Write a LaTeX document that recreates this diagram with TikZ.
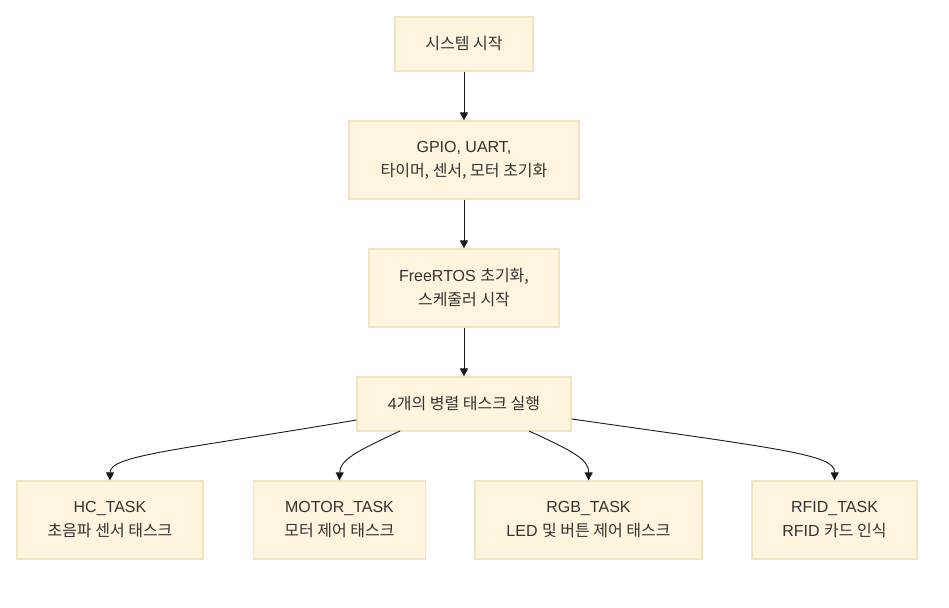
\documentclass[tikz,border=0pt]{standalone}
\usepackage{fontspec}
\setmainfont{Liberation Sans}
\newfontfamily\kr{Noto Sans CJK KR}
\usetikzlibrary{arrows.meta}
\definecolor{boxfill}{HTML}{FFF4DD}
\definecolor{boxline}{HTML}{F3E3C3}
\definecolor{ink}{HTML}{333333}
\tikzset{
  stepbox/.style={draw=boxline, fill=boxfill, line width=1.2pt, align=center,
    text=ink, font=\fontsize{16}{24}\selectfont, inner sep=0pt},
  flow/.style={draw=black!90, line width=0.9pt, -{Triangle[length=8pt,width=8pt]}}
}
\begin{document}
\begin{tikzpicture}[x=1pt, y=-1pt]
  \useasboundingbox (0,0) rectangle (949,607);
  \fill[white] (0,0) rectangle (949,607);

  % main sequence
  \node[stepbox, minimum width=138pt, minimum height=54pt] (start) at (464,44)
    {{\kr 시스템 시작}};
  \node[stepbox, minimum width=230pt, minimum height=78pt] (init) at (464,160)
    {GPIO, UART,\\{\kr 타이머, 센서, 모터 초기화}};
  \node[stepbox, minimum width=190pt, minimum height=78pt] (rtos) at (464,288)
    {FreeRTOS {\kr 초기화,}\\{\kr 스케줄러 시작}};
  \node[stepbox, minimum width=214pt, minimum height=54pt] (run) at (464,404)
    {4{\kr 개의 병렬 태스크 실행}};

  % tasks
  \node[stepbox, minimum width=186pt, minimum height=78pt] (hc) at (110,520)
    {HC\_TASK\\{\kr 초음파 센서 태스크}};
  \node[stepbox, minimum width=172pt, minimum height=78pt] (motor) at (339.5,520)
    {MOTOR\_TASK\\{\kr 모터 제어 태스크}};
  \node[stepbox, minimum width=227pt, minimum height=78pt] (rgb) at (588.5,520)
    {RGB\_TASK\\LED {\kr 및 버튼 제어 태스크}};
  \node[stepbox, minimum width=165pt, minimum height=78pt] (rfid) at (834.5,520)
    {RFID\_TASK\\RFID {\kr 카드 인식}};

  % connectors
  \draw[flow] (start) -- (init);
  \draw[flow] (init) -- (rtos);
  \draw[flow] (rtos) -- (run);

  \draw[flow] (run.west |- 0,420) .. controls (180,450) and (110,455) .. (hc.north);
  \draw[flow] (400,431) .. controls (355,452) and (340,460) .. (motor.north);
  \draw[flow] (529,431) .. controls (575,452) and (589,460) .. (rgb.north);
  \draw[flow] (run.east |- 0,419) .. controls (790,450) and (835,455) .. (rfid.north);
\end{tikzpicture}
\end{document}
